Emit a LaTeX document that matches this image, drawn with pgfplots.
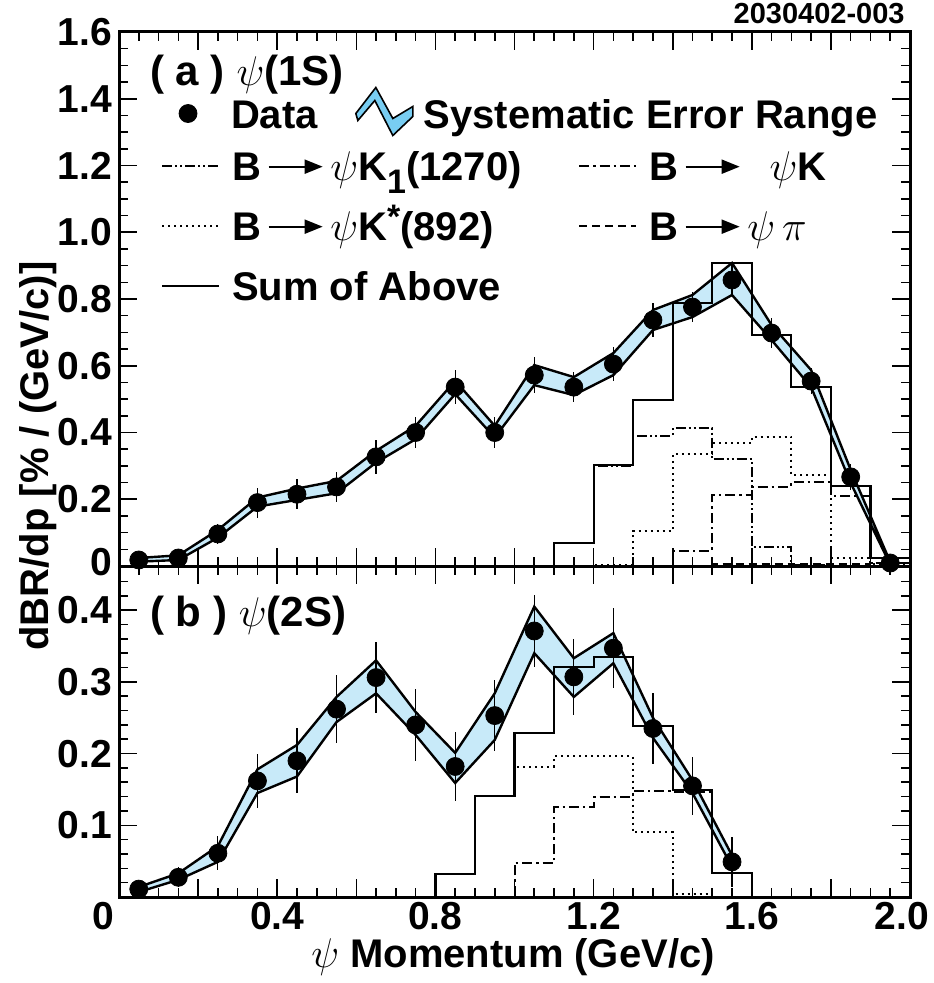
\documentclass[border=0pt]{standalone}
\usepackage{fontspec}
\setmainfont{Liberation Sans}
\usepackage{pgfplots}
\pgfplotsset{compat=1.18}
\usetikzlibrary{arrows.meta}

\definecolor{bandfill}{RGB}{200,234,249}
\definecolor{legfill}{RGB}{120,205,242}

\newcommand{\arr}{\,\tikz[baseline={(0pt,-7pt)}]\draw[solid, black, line width=1pt,
  -{Triangle[length=9pt,width=7pt]}] (0pt,0pt) -- (27pt,0pt);\,}
\newcommand{\bigf}{\bfseries\fontsize{20}{22}\selectfont}
\newcommand{\tickf}{\bfseries\fontsize{19.5}{22}\selectfont}

\pgfplotsset{
  panel/.style={
    scale only axis, width=395.5pt,
    xmin=0, xmax=2,
    axis line style={line width=1.5pt},
    tick align=inside,
    major tick length=9pt, minor tick length=4.5pt,
    every tick/.style={black, line width=0.8pt},
    xtick={0,0.2,0.4,0.6,0.8,1.0,1.2,1.4,1.6,1.8,2.0},
    minor x tick num=3,
    tick label style={font=\tickf},
    legend columns=2,
    legend cell align=left,
  },
  band/.style={fill=bandfill, draw=black, line width=1.2pt, line join=miter},
  data/.style={only marks, mark=*, mark size=4.5pt, black,
    error bars/y dir=both, error bars/y explicit,
    error bars/error bar style={line width=0.6pt, black},
    error bars/error mark=none},
  hist/.style={const plot mark left, black, line width=1.1pt, no marks},
  k1/.style={line width=1pt, dash pattern=on 5pt off 1.5pt on 1pt off 1.5pt on 1pt off 1.5pt},
  kk/.style={line width=1pt, dash pattern=on 5pt off 2pt on 1.2pt off 2pt},
  kstar/.style={line width=1pt, dash pattern=on 1pt off 2pt},
  kpi/.style={line width=1pt, dash pattern=on 4pt off 2.5pt},
}

\begin{document}
\begin{tikzpicture}

% ---------------- (a) psi(1S) ----------------
\begin{axis}[panel, name=top, at={(59.5pt,-283pt)}, anchor=south west,
  height=267pt, ymin=0, ymax=1.6,
  ytick={0,0.2,0.4,0.6,0.8,1.0,1.2,1.4,1.6}, minor y tick num=3,
  yticklabels={\raisebox{4pt}{0},0.2,0.4,0.6,0.8,1.0,1.2,1.4,1.6},
  xticklabels={},
  legend image code/.code={\draw (0pt,3pt) -- (28.5pt,3pt);
    \path[draw=none, fill=none] (0pt,2pt) rectangle (35pt,4pt);},
  legend style={draw=none, fill=none, inner sep=0pt, outer sep=0pt,
    column sep=0pt, row sep=11pt, font=\bigf,
    nodes={inner sep=0pt, text height=14pt, text depth=5pt},
    at={(0.0531,0.774)}, anchor=north west},
]
\addplot[band, forget plot] coordinates {
 (0.05,0.024)(0.15,0.032)(0.25,0.108)(0.35,0.205)(0.45,0.232)(0.55,0.255)
 (0.65,0.345)(0.75,0.42)(0.85,0.555)(0.95,0.42)(1.05,0.602)(1.15,0.566)
 (1.25,0.638)(1.35,0.767)(1.45,0.812)(1.55,0.908)(1.65,0.722)(1.75,0.587)
 (1.85,0.288)(1.95,0.012)
 (1.95,0.004)(1.85,0.249)(1.75,0.536)(1.65,0.677)(1.55,0.812)(1.45,0.746)
 (1.35,0.707)(1.25,0.572)(1.15,0.512)(1.05,0.542)(0.95,0.385)(0.85,0.515)
 (0.75,0.38)(0.65,0.31)(0.55,0.218)(0.45,0.198)(0.35,0.178)(0.25,0.085)
 (0.15,0.018)(0.05,0.013)} -- cycle;

\addplot[hist, k1] coordinates {
 (1.0,0)(1.1,0.069)(1.2,0.30)(1.3,0.39)(1.4,0.413)(1.5,0.32)(1.6,0.058)
 (1.7,0.003)(1.8,0)(2.0,0)};
\addlegendentry{\makebox[173pt][l]{B\arr$\psi$K\raisebox{-6.5pt}{\fontsize{17}{17}\selectfont 1}(1270)}}
\addplot[hist, kk] coordinates {
 (1.3,0)(1.4,0.046)(1.5,0.213)(1.6,0.238)(1.7,0.253)(1.8,0.21)(1.9,0.01)(2.0,0.01)};
\addlegendentry{B\arr\ \ $\psi$K}
\addplot[hist, kstar] coordinates {
 (1.1,0)(1.2,0.003)(1.3,0.106)(1.4,0.336)(1.5,0.368)(1.6,0.388)(1.7,0.273)
 (1.8,0.023)(1.9,0.005)(2.0,0.005)};
\addlegendentry{\makebox[173pt][l]{B\arr$\psi$K\raisebox{6pt}{\fontsize{17}{17}\selectfont *}(892)}}
\addplot[hist, kpi] coordinates {
 (1.4,0)(1.5,0.006)(1.6,0.006)(1.7,0.007)(1.8,0.007)(1.9,0.009)(2.0,0.009)};
\addlegendentry{B\arr$\psi\,\pi$}
\addplot[hist] coordinates {
 (1.0,0)(1.1,0.069)(1.2,0.303)(1.3,0.497)(1.4,0.788)(1.5,0.908)(1.6,0.692)
 (1.7,0.536)(1.8,0.24)(1.9,0.024)(2.0,0.024)};
\addlegendentry{\makebox[173pt][l]{Sum of Above}}

\addplot[data, forget plot] coordinates {
 (0.05,0.018) +- (0,0.015) (0.15,0.024) +- (0,0.015) (0.25,0.096) +- (0,0.03)
 (0.35,0.19) +- (0,0.045) (0.45,0.215) +- (0,0.045) (0.55,0.237) +- (0,0.045)
 (0.65,0.327) +- (0,0.05) (0.75,0.40) +- (0,0.045) (0.85,0.536) +- (0,0.05)
 (0.95,0.40) +- (0,0.045) (1.05,0.572) +- (0,0.055) (1.15,0.536) +- (0,0.045)
 (1.25,0.605) +- (0,0.05) (1.35,0.737) +- (0,0.05) (1.45,0.776) +- (0,0.045)
 (1.55,0.857) +- (0,0.045) (1.65,0.698) +- (0,0.045) (1.75,0.554) +- (0,0.04)
 (1.85,0.267) +- (0,0.04) (1.95,0.009) +- (0,0.015)};

\node[anchor=base west, font=\bfseries\fontsize{21}{24}\selectfont, inner sep=0pt]
  at (axis description cs:0.039,0.899) {( a ) $\psi$(1S)};
\end{axis}

% ---------------- (b) psi(2S) ----------------
\begin{axis}[panel, at={(top.south west)}, anchor=north west,
  height=165.5pt, ymin=0, ymax=0.4616,
  ytick={0,0.1,0.2,0.3,0.4},
  minor ytick={0.02,0.04,0.06,0.08,0.12,0.14,0.16,0.18,0.22,0.24,0.26,0.28,0.32,0.34,0.36,0.38,0.42,0.44},
  yticklabels={,0.1,0.2,0.3,0.4},
  xticklabels={\hspace*{-16pt}0,,0.4,,0.8,,1.2,,1.6,,\hspace*{-8pt}2.0},
  xticklabel style={yshift=1pt},
  legend style={draw=none, fill=none, inner sep=0pt, outer sep=0pt,
    column sep=0pt, font=\bigf,
    nodes={inner sep=0pt, text height=14pt, text depth=5pt},
    at={(0.0759,2.448)}, anchor=north west},
]
\addlegendimage{only marks, mark=*, mark size=4.5pt, black,
  legend image code/.code={\draw plot coordinates {(4.5pt,3pt)};
    \path[draw=none, fill=none] (0pt,2pt) rectangle (26pt,4pt);}}
\addlegendentry{\makebox[62pt][l]{Data}}
\addlegendimage{legend image code/.code={
  \filldraw[fill=legfill, draw=black, line width=0.8pt]
    (0pt,3pt) -- (10pt,16pt) -- (18.5pt,0.5pt) -- (28.5pt,6.5pt) -- (28.5pt,1.5pt)
    -- (18.5pt,-8pt) -- (9.5pt,9.5pt) -- (1pt,-0.5pt) -- cycle;
  \path[draw=none, fill=none] (0pt,2pt) rectangle (34pt,4pt);}}
\addlegendentry{Systematic Error Range}

\addplot[band, forget plot] coordinates {
 (0.05,0.014)(0.15,0.033)(0.25,0.071)(0.35,0.178)(0.45,0.212)(0.55,0.279)
 (0.65,0.33)(0.75,0.258)(0.85,0.201)(0.95,0.284)(1.05,0.405)(1.15,0.333)
 (1.25,0.368)(1.35,0.25)(1.45,0.163)(1.55,0.058)
 (1.55,0.042)(1.45,0.145)(1.35,0.222)(1.25,0.326)(1.15,0.279)(1.05,0.34)
 (0.95,0.219)(0.85,0.159)(0.75,0.226)(0.65,0.284)(0.55,0.244)(0.45,0.168)
 (0.35,0.145)(0.25,0.049)(0.15,0.024)(0.05,0.007)} -- cycle;

\addplot[hist, kstar, forget plot] coordinates {
 (0.7,0)(0.8,0.032)(0.9,0.141)(1.0,0.182)(1.1,0.196)(1.2,0.196)(1.3,0.09)
 (1.4,0.004)(1.5,0)(1.6,0)};
\addplot[hist, kk, forget plot] coordinates {
 (0.9,0)(1.0,0.048)(1.1,0.125)(1.2,0.139)(1.3,0.148)(1.4,0.147)(1.5,0.033)(1.6,0)};
\addplot[hist, forget plot] coordinates {
 (0.7,0)(0.8,0.032)(0.9,0.141)(1.0,0.229)(1.1,0.321)(1.2,0.335)(1.3,0.239)
 (1.4,0.149)(1.5,0.033)(1.6,0)};

\addplot[data, forget plot] coordinates {
 (0.05,0.011) +- (0,0.005) (0.15,0.0275) +- (0,0.014) (0.25,0.061) +- (0,0.024)
 (0.35,0.162) +- (0,0.038) (0.45,0.19) +- (0,0.045) (0.55,0.262) +- (0,0.047)
 (0.65,0.306) +- (0,0.05) (0.75,0.24) +- (0,0.05) (0.85,0.182) +- (0,0.048)
 (0.95,0.253) +- (0,0.05) (1.05,0.371) +- (0,0.05) (1.15,0.307) +- (0,0.053)
 (1.25,0.347) +- (0,0.056) (1.35,0.235) +- (0,0.049) (1.45,0.155) +- (0,0.04)
 (1.55,0.049) +- (0,0.035)};

\node[anchor=base west, font=\bfseries\fontsize{21}{24}\selectfont, inner sep=0pt]
  at (axis description cs:0.039,0.8166) {( b ) $\psi$(2S)};
\end{axis}

\node[rotate=90, font=\bfseries\fontsize{20}{22}\selectfont] at (19pt,-228pt)
  {dBR/dp [\% / (GeV/c)]};
\node[font=\bfseries\fontsize{20}{22}\selectfont, inner sep=0pt] at (256.5pt,-478.5pt)
  {$\psi$ Momentum (GeV/c)};
\node[anchor=east, font=\bfseries\fontsize{14.5}{16}\selectfont, inner sep=0pt] at (452.5pt,-7pt)
  {2030402-003};

\pgfresetboundingbox
\useasboundingbox (0pt,0pt) rectangle (466.5pt,-491.5pt);
\end{tikzpicture}
\end{document}
